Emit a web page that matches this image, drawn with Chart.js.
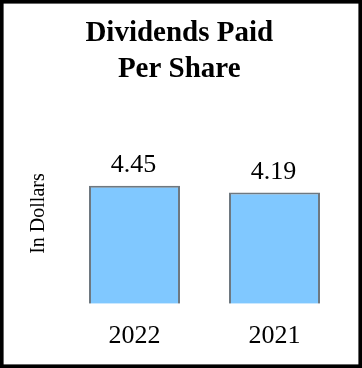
<!DOCTYPE html>
<html>
<head>
<meta charset="utf-8">
<script src="https://cdn.jsdelivr.net/npm/chart.js@4.4.1/dist/chart.umd.min.js"></script>
<style>
  html, body { margin: 0; padding: 0; background: #fff; }
  #wrap { width: 362px; height: 368px; position: relative; }
  canvas { display: block; }
</style>
</head>
<body>
<div id="wrap"><canvas id="c" width="362" height="368"></canvas></div>
<script>
const categories = ["2022", "2021"];
const dividends = [4.45, 4.19];
const titleLines = ["Dividends Paid", "Per Share"];
const yAxisLabel = "In Dollars";

const SERIF = "'Liberation Serif', 'Times New Roman', Times, serif";

const frame = {
  id: 'frame',
  afterDraw(chart) {
    const ctx = chart.ctx;
    ctx.save();
    ctx.strokeStyle = '#000';
    ctx.lineWidth = 3.6;
    ctx.strokeRect(1.8, 1.8, chart.width - 3.6, chart.height - 3.6);
    ctx.restore();
  }
};

const valueLabels = {
  id: 'valueLabels',
  afterDatasetsDraw(chart) {
    const ctx = chart.ctx;
    const meta = chart.getDatasetMeta(0);
    ctx.save();
    ctx.fillStyle = '#000';
    ctx.font = "26px " + SERIF;
    ctx.textAlign = 'center';
    ctx.textBaseline = 'alphabetic';
    meta.data.forEach((bar, i) => {
      ctx.fillText(dividends[i].toFixed(2), bar.x - 1, bar.y - 14);
    });
    ctx.restore();
  }
};

new Chart(document.getElementById('c'), {
  type: 'bar',
  data: {
    labels: categories,
    datasets: [{
      data: dividends,
      backgroundColor: '#80C8FF',
      borderColor: '#6E7880',
      borderWidth: 2,
      borderSkipped: 'bottom',
      barPercentage: 0.65,
      categoryPercentage: 1.0
    }]
  },
  options: {
    responsive: false,
    animation: false,
    devicePixelRatio: 1,
    layout: { padding: { left: 14, right: 17.5, top: 0, bottom: 0 } },
    plugins: {
      legend: { display: false },
      tooltip: { enabled: false },
      title: {
        display: true,
        text: titleLines,
        color: '#000',
        font: { family: SERIF, size: 29, weight: 'bold', lineHeight: 1.22 },
        padding: { top: 16, bottom: 36.6 }
      }
    },
    scales: {
      x: {
        grid: { display: false, drawTicks: false },
        border: { display: false },
        ticks: {
          color: '#000',
          font: { family: SERIF, size: 26, lineHeight: 1.35 },
          padding: 14.6,
          maxRotation: 0
        }
      },
      y: {
        min: 0,
        max: 6.8,
        grid: { display: false, drawTicks: false },
        border: { display: false },
        ticks: { display: false },
        title: {
          display: true,
          text: yAxisLabel,
          color: '#000',
          font: { family: SERIF, size: 20, lineHeight: 1.2 },
          padding: { top: 13, bottom: 13.5 }
        }
      }
    }
  },
  plugins: [valueLabels, frame]
});
</script>
</body>
</html>
